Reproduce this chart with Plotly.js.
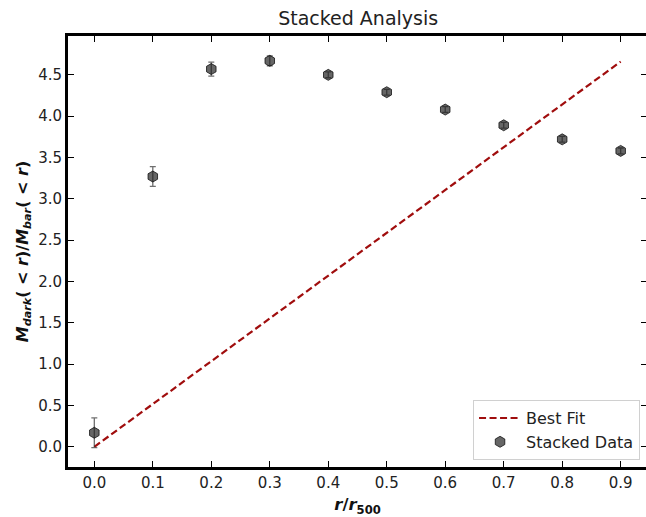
<!DOCTYPE html>
<html>
<head>
<meta charset="utf-8">
<script src="https://cdn.plot.ly/plotly-3.0.1.min.js"></script>
<style>html,body{margin:0;padding:0;overflow:hidden;background:#fff;}</style>
</head>
<body>
<div id="chart" style="width:650px;height:517px;"></div>
<script>
// Data
const radius = [0.0, 0.1, 0.2, 0.3, 0.4, 0.5, 0.6, 0.7, 0.8, 0.9];
const massRatio = [0.17, 3.27, 4.57, 4.67, 4.50, 4.29, 4.08, 3.89, 3.72, 3.58];
const massRatioErr = [0.18, 0.12, 0.085, 0.06, 0.035, 0.035, 0.035, 0.035, 0.035, 0.035];
const fitX = [0.0, 0.9];
const fitY = [0.0, 4.66];
const xTicks = [0.0, 0.1, 0.2, 0.3, 0.4, 0.5, 0.6, 0.7, 0.8, 0.9];
const yTicks = [0.0, 0.5, 1.0, 1.5, 2.0, 2.5, 3.0, 3.5, 4.0, 4.5];

const font = 'DejaVu Sans, sans-serif';

const traces = [
  {
    x: fitX, y: fitY, mode: 'lines', name: 'Best Fit',
    line: {color: '#a00d0d', width: 2.2, dash: '7px,3.5px'},
    hoverinfo: 'skip'
  },
  {
    x: radius, y: massRatio, mode: 'markers', name: 'Stacked Data',
    marker: {symbol: 'hexagon', size: 11, color: 'rgba(30,30,30,0.68)',
             line: {color: 'rgba(10,10,10,0.75)', width: 1}},
    error_y: {type: 'data', array: massRatioErr, visible: true,
              color: 'rgba(50,50,50,0.7)', thickness: 1.3, width: 3}
  }
];

const layout = {
  width: 650, height: 517,
  margin: {l: 68, r: 3, t: 36, b: 50},
  paper_bgcolor: '#fff', plot_bgcolor: '#fff',
  font: {family: font, size: 15, color: '#222'},
  showlegend: true,
  title: {text: 'Stacked Analysis', font: {family: font, size: 19, color: '#222'},
          x: 0.551, xanchor: 'center', y: 0.964, yanchor: 'middle', yref: 'container', xref: 'container'},
  xaxis: {
    range: [-0.045, 0.945], tickvals: xTicks, ticktext: xTicks.map(v => v.toFixed(1)),
    showgrid: false, zeroline: false, showline: true, linewidth: 3, linecolor: '#000',
    mirror: 'ticks', ticks: 'inside', ticklen: 6, tickwidth: 1, tickcolor: '#000',
    tickfont: {family: font, size: 15, color: '#222'},
    title: {text: '<b><i>r</i>/<i>r</i><sub>500</sub></b>', font: {family: font, size: 16.5, color: '#111'}, standoff: 8},
    automargin: false
  },
  yaxis: {
    range: [-0.244, 4.97], tickvals: yTicks, ticktext: yTicks.map(v => v.toFixed(1)),
    showgrid: false, zeroline: false, showline: true, linewidth: 3, linecolor: '#000',
    mirror: 'ticks', ticks: 'inside', ticklen: 6, tickwidth: 1, tickcolor: '#000',
    tickfont: {family: font, size: 15, color: '#222'},
    title: {text: '<b><i>M<sub>dark</sub></i>( < <i>r</i>)/<i>M<sub>bar</sub></i>( < <i>r</i>)</b>',
            font: {family: font, size: 16, color: '#111'}, standoff: 6},
    automargin: false
  },
  legend: {
    x: 0.988, xanchor: 'right', y: 0.016, yanchor: 'bottom',
    bgcolor: 'rgba(255,255,255,0.85)', bordercolor: '#d0d0d0', borderwidth: 1,
    font: {family: font, size: 16, color: '#222'},
    itemwidth: 42, tracegroupgap: 0
  }
};

Plotly.newPlot('chart', traces, layout, {displayModeBar: false, staticPlot: true});
</script>
</body>
</html>
